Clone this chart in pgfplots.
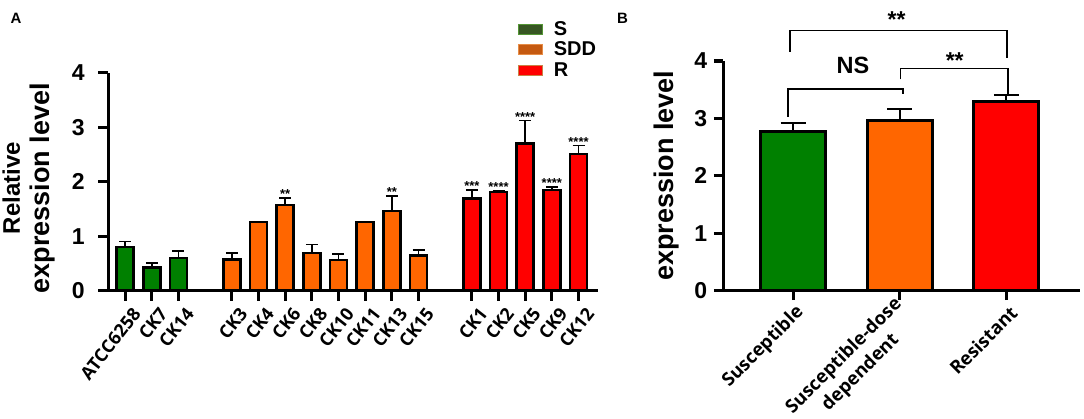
\documentclass[border=0pt]{standalone}
\usepackage{pgfplots}
\usepackage{pgfplotstable}
\pgfplotsset{compat=1.18}
\usepackage{fontspec}
\setmainfont{Liberation Sans}
\newfontfamily\opensans{Open Sans}
\definecolor{barG}{RGB}{0,128,0}
\definecolor{barO}{RGB}{255,102,0}
\definecolor{barR}{RGB}{255,0,0}
\definecolor{legS}{RGB}{55,86,35}
\definecolor{legSb}{RGB}{84,150,53}
\definecolor{legO}{RGB}{197,90,17}
\definecolor{legOb}{RGB}{230,140,70}
\definecolor{legRb}{RGB}{200,130,70}

\pgfplotstableread{
x y e
0 0.80 0.10
1 0.43 0.08
2 0.60 0.13
}\dataS
\pgfplotstableread{
x y e
4 0.575 0.115
5 1.26 0.012
6 1.57 0.13
7 0.69 0.16
8 0.56 0.11
9 1.26 0.012
10 1.46 0.28
11 0.65 0.10
}\dataSDD
\pgfplotstableread{
x y e
13 1.69 0.16
14 1.81 0.025
15 2.70 0.42
16 1.85 0.05
17 2.51 0.15
}\dataR

\begin{document}
\begin{tikzpicture}
\useasboundingbox (0pt,0pt) rectangle (1084pt,419pt);
\node[font=\fontsize{15}{18}\selectfont\bfseries] at (16pt,400.5pt) {A};
\node[font=\fontsize{15}{18}\selectfont\bfseries] at (622.5pt,400.5pt) {B};
\begin{axis}[
  at={(108.3pt,128.3pt)}, anchor=south west,
  scale only axis, width=489.7pt, height=218pt,
  xmin=-0.63, xmax=17.73, ymin=0, ymax=4,
  axis x line*=bottom, axis y line*=left,
  axis line style={line width=3.2pt, black},
  tick style={line width=3.2pt, black},
  tick align=outside, major tick length=10pt,
  ytick={0,1,2,3,4},
  xtick={0,1,2,4,5,6,7,8,9,10,11,13,14,15,16,17},
  xticklabels={ATCC6258,CK7,CK14,CK3,CK4,CK6,CK8,CK10,CK11,CK13,CK15,CK1,CK2,CK5,CK9,CK12},
  /pgf/number format/assume math mode=true,
  yticklabel style={font=\fontsize{23}{23}\selectfont\bfseries, xshift=-10pt},
  xticklabel style={font=\opensans\bfseries\fontsize{18}{21}\selectfont, rotate=52, anchor=east, yshift=-15pt, xshift=3pt},
  ylabel={{\fontsize{24}{30}\selectfont Relative}\\expression level},
  ylabel style={align=center, font=\fontsize{27}{30}\selectfont\bfseries, at={(axis description cs:-0.162,0.47)}, anchor=center},
  clip=false,
  legend image code/.code={\draw[#1, line width=1pt] (0pt,-5pt) rectangle (24pt,5pt);},
  legend style={at={(axis description cs:0.836,1.245)}, anchor=north west, draw=none, fill=none, inner sep=0pt,
    font=\fontsize{20}{24}\selectfont\bfseries, row sep=1pt,
    /tikz/every odd column/.append style={column sep=9pt}},
  legend cell align=left,
]
\addplot[ybar, bar width=17pt, bar shift=0pt, fill=barG, draw=black, line width=2.5pt, forget plot,
  error bars/.cd, y dir=plus, y explicit,
  error bar style={line width=1.5pt, black},
  error mark options={line width=1.5pt, black, mark size=6pt, rotate=90}]
  table[x=x, y=y, y error=e] {\dataS};
\addplot[ybar, bar width=17pt, bar shift=0pt, fill=barO, draw=black, line width=2.5pt, forget plot,
  error bars/.cd, y dir=plus, y explicit,
  error bar style={line width=1.5pt, black},
  error mark options={line width=1.5pt, black, mark size=6pt, rotate=90}]
  table[x=x, y=y, y error=e] {\dataSDD};
\addplot[ybar, bar width=17pt, bar shift=0pt, fill=barR, draw=black, line width=2.5pt, forget plot,
  error bars/.cd, y dir=plus, y explicit,
  error bar style={line width=1.5pt, black},
  error mark options={line width=1.5pt, black, mark size=6pt, rotate=90}]
  table[x=x, y=y, y error=e] {\dataR};
\addplot[draw=none, forget plot, nodes near coords, point meta=explicit symbolic,
  every node near coord/.append style={font=\fontsize{13}{13}\selectfont\bfseries, anchor=south, inner sep=0pt, yshift=-1pt}]
  coordinates {(6,1.70) [**] (10,1.74) [**] (13,1.85) [***] (14,1.835) [****] (15,3.12) [****] (16,1.90) [****] (17,2.66) [****]};
\addlegendimage{fill=legS, draw=legSb}
\addlegendentry{S}
\addlegendimage{fill=legO, draw=legOb}
\addlegendentry{SDD}
\addlegendimage{fill=barR, draw=legRb}
\addlegendentry{R}
\end{axis}

\begin{axis}[
  at={(723.3pt,128.3pt)}, anchor=south west,
  scale only axis, width=356.7pt, height=229.7pt,
  xmin=-0.656, xmax=2.69, ymin=0, ymax=4,
  axis x line*=bottom, axis y line*=left,
  axis line style={line width=3.2pt, black},
  tick style={line width=3.2pt, black},
  tick align=outside, major tick length=9.5pt,
  ytick={0,1,2,3,4},
  xtick={0,1,2},
  xticklabels={Susceptible,{Susceptible-dose\\dependent},Resistant},
  /pgf/number format/assume math mode=true,
  yticklabel style={font=\fontsize{23}{23}\selectfont\bfseries, xshift=-3pt},
  xticklabel style={align=center, font=\opensans\bfseries\fontsize{18.5}{23.5}\selectfont, rotate=45, anchor=east, yshift=-12pt, xshift=2pt},
  ylabel={expression level},
  ylabel style={font=\fontsize{27}{30}\selectfont\bfseries, at={(axis description cs:-0.158,0.5)}, anchor=center},
  clip=false,
]
\addplot[ybar, bar width=65pt, bar shift=0pt, fill=barG, draw=black, line width=3pt,
  error bars/.cd, y dir=plus, y explicit,
  error bar style={line width=2pt, black},
  error mark options={line width=2pt, black, mark size=12.5pt, rotate=90}]
  coordinates {(0,2.77) +- (0,0.145)};
\addplot[ybar, bar width=65pt, bar shift=0pt, fill=barO, draw=black, line width=3pt,
  error bars/.cd, y dir=plus, y explicit,
  error bar style={line width=2pt, black},
  error mark options={line width=2pt, black, mark size=12.5pt, rotate=90}]
  coordinates {(1,2.96) +- (0,0.205)};
\addplot[ybar, bar width=65pt, bar shift=0pt, fill=barR, draw=black, line width=3pt,
  error bars/.cd, y dir=plus, y explicit,
  error bar style={line width=2pt, black},
  error mark options={line width=2pt, black, mark size=12.5pt, rotate=90}]
  coordinates {(2,3.30) +- (0,0.11)};
\draw[line width=1.6pt] (axis cs:-0.05,3.03) |- (axis cs:1.03,3.51) -- (axis cs:1.03,3.43);
\draw[line width=1.6pt] (axis cs:1.007,3.68) |- (axis cs:2.015,3.87) -- (axis cs:2.015,3.41);
\draw[line width=1.6pt] (axis cs:-0.03,4.16) |- (axis cs:2.006,4.53) -- (axis cs:2.006,4.05);
\node[font=\fontsize{23.5}{26}\selectfont\bfseries] at (axis cs:0.56,3.93) {NS};
\node[font=\fontsize{23}{26}\selectfont\bfseries] at (axis cs:1.515,4.0) {**};
\node[font=\fontsize{23}{26}\selectfont\bfseries] at (axis cs:0.97,4.716) {**};
\end{axis}
\end{tikzpicture}
\end{document}
